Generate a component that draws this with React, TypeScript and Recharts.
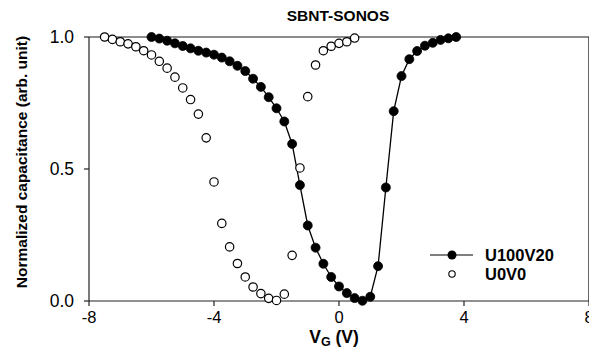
import React from "react";
import {
  ScatterChart,
  Scatter,
  XAxis,
  YAxis,
  ReferenceLine,
  Legend,
} from "recharts";

// gate voltage (V) and normalized capacitance
const filledVg = [
  -6, -5.75, -5.5, -5.25, -5, -4.75, -4.5, -4.25, -4, -3.75, -3.5, -3.25, -3,
  -2.75, -2.5, -2.25, -2, -1.75, -1.5, -1.25, -1, -0.75, -0.5, -0.25, 0, 0.25,
  0.5, 0.75, 1, 1.25, 1.5, 1.75, 2, 2.25, 2.5, 2.75, 3, 3.25, 3.5, 3.75,
];
const filledCap = [
  1.0, 0.994, 0.986, 0.976, 0.966, 0.957, 0.948, 0.941, 0.933, 0.922, 0.908,
  0.891, 0.871, 0.842, 0.811, 0.772, 0.73, 0.68, 0.595, 0.439, 0.286, 0.202,
  0.141, 0.091, 0.055, 0.03, 0.011, 0.001, 0.016, 0.132, 0.43, 0.719, 0.852,
  0.916, 0.947, 0.967, 0.978, 0.989, 0.995, 1.0,
];
const openVg = [
  -7.5, -7.25, -7, -6.75, -6.5, -6.25, -6, -5.75, -5.5, -5.25, -5, -4.75, -4.5,
  -4.25, -4, -3.75, -3.5, -3.25, -3, -2.75, -2.5, -2.25, -2, -1.75, -1.5,
  -1.25, -1, -0.75, -0.5, -0.25, 0, 0.25, 0.5,
];
const openCap = [
  1.0, 0.991, 0.982, 0.974, 0.963, 0.948, 0.932, 0.908, 0.882, 0.848, 0.807,
  0.763, 0.708, 0.618, 0.451, 0.294, 0.205, 0.142, 0.091, 0.053, 0.028, 0.01,
  0.002, 0.026, 0.173, 0.504, 0.774, 0.894, 0.948, 0.965, 0.976, 0.982, 0.996,
];
const xTicks = [-8, -4, 0, 4, 8];
const yTicks = [0, 0.5, 1];

const u100v20 = filledVg.map((vg, i) => ({ vg, cap: filledCap[i] }));
const u0v0 = openVg.map((vg, i) => ({ vg, cap: openCap[i] }));

const FONT = '"Liberation Sans", Arial, Helvetica, sans-serif';

const FilledDot = (props: any) => (
  <circle cx={props.cx} cy={props.cy} r={4.5} fill="#000" stroke="#000" strokeWidth={0.8} />
);
const OpenDot = (props: any) => (
  <circle cx={props.cx} cy={props.cy} r={4.2} fill="#fff" stroke="#000" strokeWidth={1.2} />
);

const renderLegend = () => (
  <svg width={169} height={50} style={{ display: "block" }}>
    <line x1={10} y1={15} x2={53} y2={15} stroke="#000" strokeWidth={1.2} />
    <circle cx={32} cy={15} r={4.5} fill="#000" />
    <text x={65} y={21} fontFamily={FONT} fontWeight="bold" fontSize={16.5} fill="#000">
      U100V20
    </text>
    <circle cx={32} cy={34} r={3.2} fill="#fff" stroke="#000" strokeWidth={1.1} />
    <text x={65} y={40} fontFamily={FONT} fontWeight="bold" fontSize={16.5} fill="#000">
      U0V0
    </text>
  </svg>
);

const YLabel = () => (
  <text
    x={21}
    y={162}
    transform="rotate(-90 21 162)"
    textAnchor="middle"
    dominantBaseline="central"
    fontFamily={FONT}
    fontWeight="bold"
    fontSize={15.5}
    fill="#000"
  >
    Normalized capacitance (arb. unit)
  </text>
);

const XLabel = () => (
  <text x={334} y={343} textAnchor="middle" fontFamily={FONT} fontWeight="bold" fontSize={17.5} fill="#000">
    V<tspan fontSize={12.5} dy={3}>G</tspan>
    <tspan dy={-3}> (V)</tspan>
  </text>
);

export default function App() {
  return (
    <div
      style={{
        position: "absolute",
        left: 0,
        top: 0,
        width: 589,
        height: 349,
        overflow: "hidden",
        background: "#fff",
        fontFamily: FONT,
      }}
    >
      <div
        style={{
          position: "absolute",
          left: 0,
          top: 7,
          width: 676,
          textAlign: "center",
          fontWeight: "bold",
          fontSize: 15.5,
          color: "#000",
          zIndex: 2,
        }}
      >
        SBNT-SONOS
      </div>
      <ScatterChart
        width={600}
        height={349}
        margin={{ top: 37, right: 11, left: 8, bottom: 8 }}
      >
        <XAxis
          type="number"
          dataKey="vg"
          domain={[-8, 8]}
          ticks={xTicks}
          height={40}
          tickSize={5}
          tickMargin={5}
          axisLine={{ stroke: "#222", strokeWidth: 1.2 }}
          tickLine={{ stroke: "#222", strokeWidth: 1.2 }}
          tick={{ fill: "#000", fontSize: 16.5, fontFamily: FONT }}
          label={<XLabel />}
        />
        <YAxis
          type="number"
          dataKey="cap"
          domain={[0, 1]}
          ticks={yTicks}
          width={81}
          tickSize={5}
          tickMargin={10}
          tickFormatter={(v: number) => v.toFixed(1)}
          axisLine={{ stroke: "#222", strokeWidth: 1.2 }}
          tickLine={{ stroke: "#222", strokeWidth: 1.2 }}
          tick={{ fill: "#000", fontSize: 17.5, fontFamily: FONT }}
          label={<YLabel />}
        />
        <ReferenceLine y={1} stroke="#666" strokeWidth={1.5} />
        <ReferenceLine x={8} stroke="#333" strokeWidth={1.5} />
        <Scatter
          name="U100V20"
          data={u100v20}
          shape={FilledDot}
          line={{ stroke: "#000", strokeWidth: 1.3 }}
          lineType="joint"
          isAnimationActive={false}
        />
        <Scatter name="U0V0" data={u0v0} shape={OpenDot} isAnimationActive={false} />
        <Legend
          layout="vertical"
          align="center"
          verticalAlign="middle"
          content={renderLegend}
          wrapperStyle={{ position: "absolute", left: 420, top: 240, width: 169, height: 50 }}
        />
      </ScatterChart>
    </div>
  );
}
